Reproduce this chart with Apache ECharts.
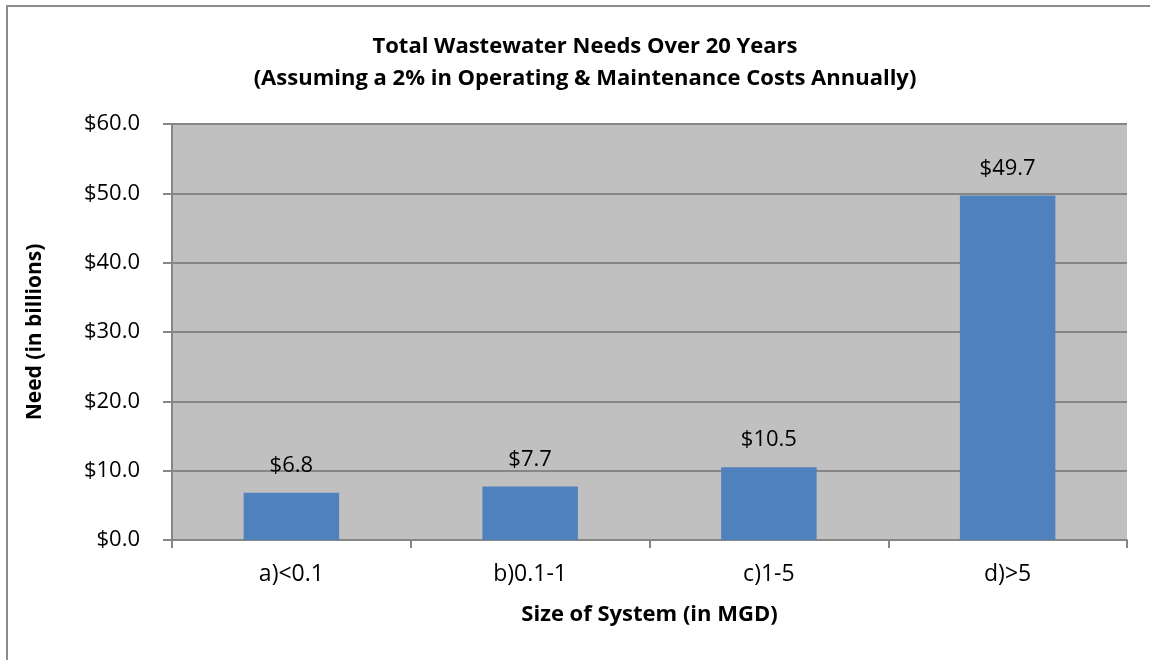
<!DOCTYPE html>
<html>
<head>
<meta charset="utf-8">
<script src="https://cdn.jsdelivr.net/npm/echarts@6/dist/echarts.min.js"></script>
<style>
  body { margin: 0; background: #fff; }
  #frame { position: absolute; left: 6px; top: 5px; width: 1160px; height: 680px; border: 2px solid #8c8c8c; box-sizing: border-box; }
  #main { position: absolute; left: 0; top: 0; width: 1150px; height: 660px; }
</style>
</head>
<body>
<div id="frame"></div>
<div id="main"></div>
<script>
var categories = ["a)<0.1", "b)0.1-1", "c)1-5", "d)>5"];
var needs = [6.8, 7.7, 10.5, 49.7];
var yTicks = [0, 10, 20, 30, 40, 50, 60];

var font = "'Open Sans', sans-serif";
var myChart = echarts.init(document.getElementById("main"));

myChart.setOption({
  textStyle: { fontFamily: font },
  title: {
    text: "Total Wastewater Needs Over 20 Years\n(Assuming a 2% in Operating & Maintenance Costs Annually)",
    left: 580,
    top: 26,
    textAlign: "center",
    textStyle: { fontSize: 22, fontWeight: "bold", color: "#000", lineHeight: 32, fontFamily: font }
  },
  grid: { left: 172, right: 23, top: 124, bottom: 120, show: true, backgroundColor: "#c0c0c0", borderWidth: 0 },
  xAxis: {
    type: "category",
    data: categories,
    name: "Size of System (in MGD)",
    nameLocation: "middle",
    nameGap: 64,
    nameTextStyle: { fontSize: 22, fontWeight: "bold", color: "#000", fontFamily: font },
    axisLine: { lineStyle: { color: "#868686", width: 2 } },
    axisTick: { show: true, length: 8, lineStyle: { color: "#868686", width: 2 } },
    axisLabel: { fontSize: 23, color: "#000", margin: 23, fontFamily: font }
  },
  yAxis: {
    type: "value",
    min: yTicks[0],
    max: yTicks[yTicks.length - 1],
    interval: 10,
    name: "Need (in billions)",
    nameLocation: "middle",
    nameGap: 126,
    nameTextStyle: { fontSize: 21, fontWeight: "bold", color: "#000", fontFamily: font },
    axisLine: { show: true, lineStyle: { color: "#868686", width: 2 } },
    axisTick: { show: true, length: 9, lineStyle: { color: "#868686", width: 2 } },
    axisLabel: {
      fontSize: 22, color: "#000", margin: 32, fontFamily: font,
      formatter: function (v) { return "$" + v.toFixed(1); }
    },
    splitLine: { lineStyle: { color: "#868686", width: 2 } }
  },
  series: [
    {
      type: "bar",
      data: needs,
      barWidth: "40%",
      itemStyle: { color: "#4f81bd" },
      label: {
        show: true,
        position: "top",
        distance: 16,
        fontSize: 22,
        color: "#000",
        fontFamily: font,
        formatter: function (p) { return "$" + p.value.toFixed(1); }
      }
    }
  ]
});
</script>
</body>
</html>
